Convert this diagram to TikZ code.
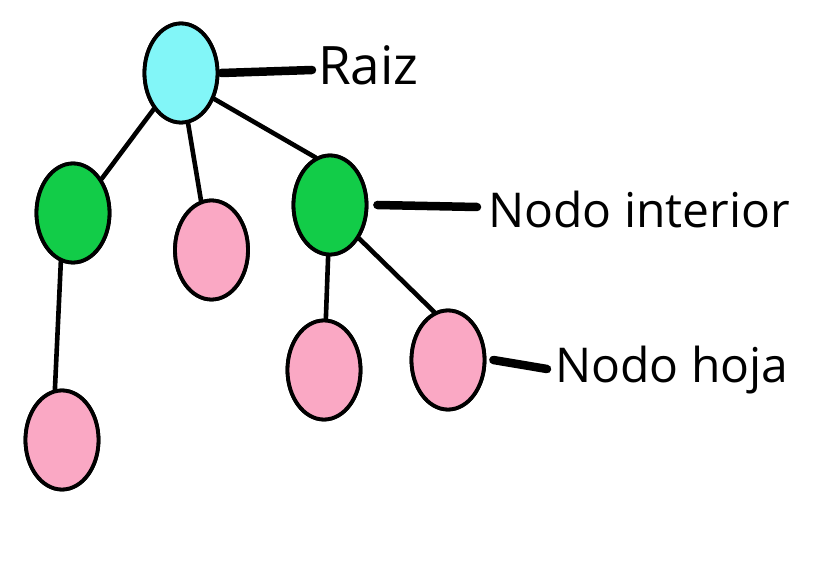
\documentclass[tikz,border=0pt]{standalone}
\usepackage{fontspec}
\setmainfont{Open Sans}
\usetikzlibrary{shapes.geometric}
\definecolor{rootcyan}{RGB}{130,246,248}
\definecolor{intgreen}{RGB}{18,204,72}
\definecolor{leafpink}{RGB}{250,168,196}
\tikzset{
  treenode/.style={ellipse, draw=black, line width=3.8pt, minimum width=73pt, minimum height=99pt, inner sep=0pt},
  edge/.style={line width=4.6pt, line cap=round},
  labelline/.style={line width=8.5pt, line cap=round},
  lbl/.style={anchor=base west, inner sep=0pt, font=\fontsize{48}{58}\selectfont}
}
\begin{document}
\begin{tikzpicture}[x=1pt,y=-1pt]
\useasboundingbox (0,0) rectangle (831,588);
\fill[white] (0,0) rectangle (831,588);
% nodes
\node[treenode, fill=rootcyan] (root) at (181,73) {};
\node[treenode, fill=intgreen] (gl) at (73,213) {};
\node[treenode, fill=leafpink] (pm) at (211.5,250) {};
\node[treenode, fill=intgreen] (gr) at (330,205) {};
\node[treenode, fill=leafpink] (ll) at (62,440) {};
\node[treenode, fill=leafpink] (pc) at (324,370) {};
\node[treenode, fill=leafpink] (pr) at (448,360) {};
% edges
\draw[edge] (root.-127) -- (gl.50);
\draw[edge] (root.-82) -- (pm.102);
\draw[edge] (root.-38) -- (gr.107);
\draw[edge] (gl.-104) -- (ll.98);
\draw[edge] (gr) -- (pc);
\draw[edge] (gr.-49) -- (pr.106);
% redraw nodes on top
\node[treenode, fill=rootcyan] at (root) {};
\node[treenode, fill=intgreen] at (gl) {};
\node[treenode, fill=leafpink] at (pm) {};
\node[treenode, fill=intgreen] at (gr) {};
\node[treenode, fill=leafpink] at (ll) {};
\node[treenode, fill=leafpink] at (pc) {};
\node[treenode, fill=leafpink] at (pr) {};
% labels
\coordinate (rootend) at (312,70);
\coordinate (intend) at (477,207);
\coordinate (leafend) at (547,369);
\draw[labelline] ([xshift=2pt]root.east) -- (rootend);
\draw[labelline] ([xshift=9pt]gr.east) -- (intend);
\draw[labelline] ([xshift=7pt]pr.east) -- (leafend);
\node[lbl, font=\fontsize{53}{62}\selectfont] (traiz) at (318,85) {Raiz};
\node[lbl] (tint) at (488,228) {Nodo interior};
\node[lbl] (thoja) at (555,382) {Nodo hoja};
\end{tikzpicture}
\end{document}
